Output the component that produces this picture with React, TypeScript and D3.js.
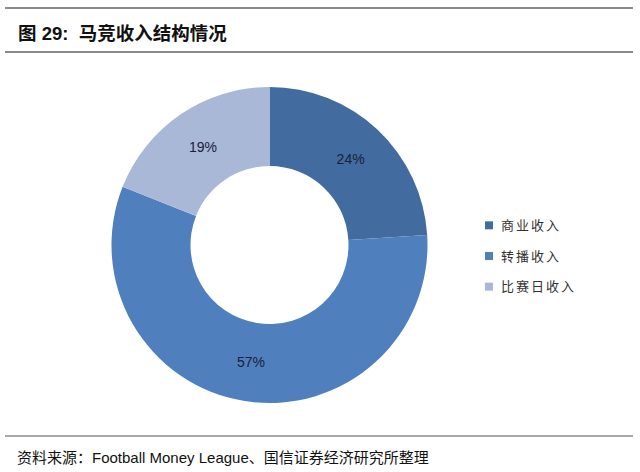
import * as d3 from "d3";

const categories = ["商业收入", "转播收入", "比赛日收入"];
const shares = [24, 57, 19];
const colors = ["#426C9F", "#4F80BD", "#AAB8D8"];

const title = "图 29:  马竞收入结构情况";
const source = "资料来源：Football Money League、国信证券经济研究所整理";

const W = 640;
const H = 472;
const cx = 269.5;
const cy = 245;
const outerR = 158;
const innerR = 79;

export default function App() {
  const pie = d3.pie<number>().sort(null).value((d) => d);
  const arcs = pie(shares);
  const arc = d3.arc<d3.PieArcDatum<number>>().innerRadius(innerR).outerRadius(outerR);

  const legendY = d3.scaleBand<string>().domain(categories).range([210, 302]);

  return (
    <svg
      width={W}
      height={H}
      style={{ position: "absolute", left: 0, top: 0, background: "#fff" }}
    >
      <rect width={W} height={H} fill="#fff" />
      <line x1={5} x2={633} y1={8} y2={8} stroke="#8a8a8a" strokeWidth={2} />
      <text
        x={18}
        y={40}
        fontFamily="Liberation Sans, 'Noto Sans CJK SC', sans-serif"
        fontWeight="bold"
        fontSize={18.5}
        fill="#111"
        style={{ whiteSpace: "pre" }}
      >
        {title}
      </text>
      <line x1={5} x2={633} y1={52} y2={52} stroke="#8a8a8a" strokeWidth={2} />

      <g transform={`translate(${cx},${cy})`}>
        {arcs.map((a, i) => (
          <path key={i} d={arc(a) ?? ""} fill={colors[i]} />
        ))}
        {arcs.map((a, i) => {
          const [x, y] = arc.centroid(a);
          return (
            <text
              key={"t" + i}
              x={x}
              y={y}
              dy="0.35em"
              textAnchor="middle"
              fontFamily="Liberation Sans, Arial, sans-serif"
              fontSize={14}
              fill="#18203a"
            >
              {shares[i]}%
            </text>
          );
        })}
      </g>

      {categories.map((c, i) => {
        const y = (legendY(c) ?? 0) + legendY.bandwidth() / 2;
        return (
          <g key={c}>
            <rect x={485} y={y - 4} width={8} height={8} fill={colors[i]} />
            <text
              x={501}
              y={y}
              dy="0.36em"
              fontFamily="'Noto Sans CJK SC', sans-serif"
              fontSize={13}
              letterSpacing={2}
              fill="#333"
            >
              {c}
            </text>
          </g>
        );
      })}

      <line x1={5} x2={633} y1={436} y2={436} stroke="#8a8a8a" strokeWidth={1.5} />
      <text
        x={17}
        y={463}
        fontFamily="Liberation Sans, 'Noto Sans CJK SC', sans-serif"
        fontSize={15}
        fill="#111"
      >
        {source}
      </text>
    </svg>
  );
}
